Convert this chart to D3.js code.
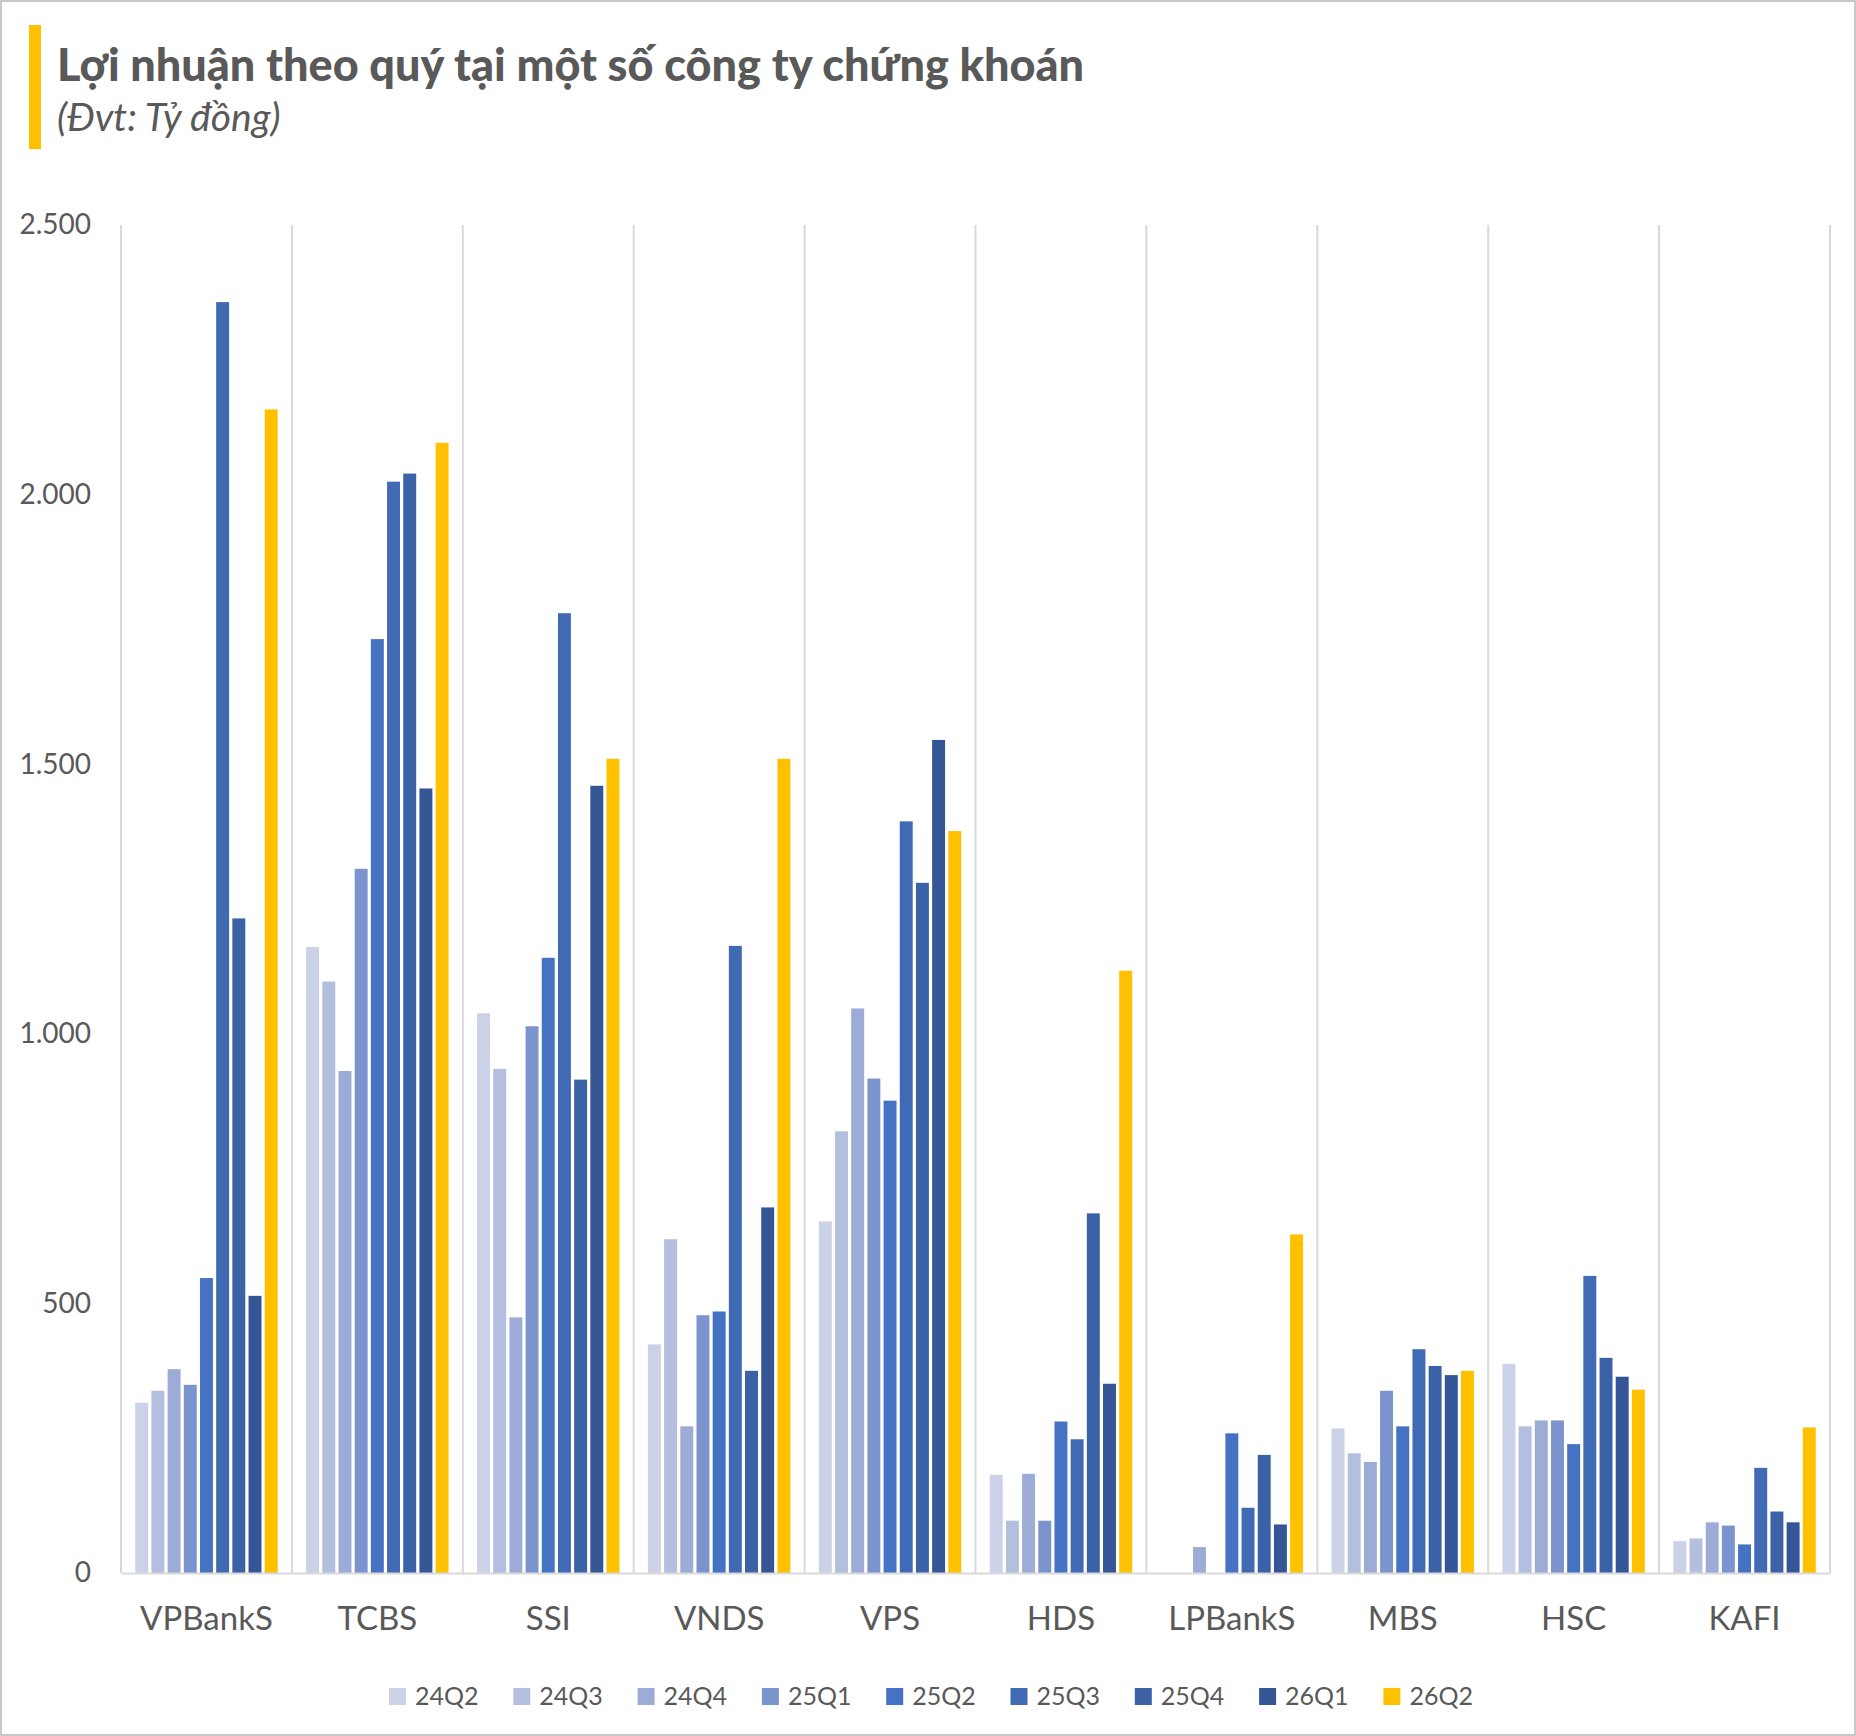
<!DOCTYPE html>
<html>
<head>
<meta charset="utf-8">
<script src="https://cdn.jsdelivr.net/npm/d3@7"></script>
<style>
  body { margin: 0; background: #fff; }
  text { font-family: Lato, "Open Sans", sans-serif; fill: #595959; }
</style>
</head>
<body>
<div class="chart"></div>
<script>
var svgWidth = 1856;
var svgHeight = 1736;

// companies on the x axis
var companies = ["VPBankS", "TCBS", "SSI", "VNDS", "VPS", "HDS", "LPBankS", "MBS", "HSC", "KAFI"];
var quarters = ["24Q2", "24Q3", "24Q4", "25Q1", "25Q2", "25Q3", "25Q4", "26Q1", "26Q2"];
var colors = ["#CBD2E8", "#B4BFDF", "#9CACD6", "#7C94CE", "#4672C4", "#416AB5", "#3B61A6", "#345596", "#FFC000"];
var yTicks = [0, 500, 1000, 1500, 2000, 2500];

// profit per quarter (ty dong), one array per quarter, in company order
var q24Q2 = [316, 1161, 1038, 424, 652, 182, null, 268, 388, 59];
var q24Q3 = [338, 1097, 935, 619, 819, 97, null, 222, 272, 64];
var q24Q4 = [378, 931, 474, 272, 1047, 184, 48, 206, 283, 94];
var q25Q1 = [349, 1306, 1014, 478, 917, 97, null, 338, 283, 88];
var q25Q2 = [547, 1732, 1141, 485, 876, 281, 259, 272, 239, 53];
var q25Q3 = [2357, 2024, 1780, 1163, 1394, 248, 121, 415, 551, 195];
var q25Q4 = [1214, 2039, 915, 375, 1280, 667, 219, 384, 399, 114];
var q26Q1 = [514, 1455, 1460, 678, 1545, 351, 90, 367, 364, 94];
var q26Q2 = [2158, 2096, 1510, 1510, 1376, 1117, 628, 375, 340, 270];
var seriesValues = [q24Q2, q24Q3, q24Q4, q25Q1, q25Q2, q25Q3, q25Q4, q26Q1, q26Q2];

var margin = { top: 225, right: 26, bottom: 163, left: 121 };
var width = svgWidth - margin.left - margin.right;
var height = svgHeight - margin.top - margin.bottom;

var svg = d3.select(".chart")
  .append("svg")
  .attr("width", svgWidth)
  .attr("height", svgHeight);

// frame
svg.append("rect")
  .attr("x", 1).attr("y", 1)
  .attr("width", svgWidth - 2).attr("height", svgHeight - 2)
  .attr("fill", "none")
  .attr("stroke", "#c8c8c8")
  .attr("stroke-width", 2);

// title block
svg.append("rect")
  .attr("x", 29).attr("y", 25)
  .attr("width", 12).attr("height", 124)
  .attr("fill", "#FFC000");

svg.append("text")
  .attr("x", 57).attr("y", 81)
  .style("font-size", "45px")
  .style("font-weight", "900")
  .text("Lợi nhuận theo quý tại một số công ty chứng khoán");

svg.append("text")
  .attr("x", 57).attr("y", 131)
  .style("font-size", "39px")
  .style("font-style", "italic")
  .text("(Đvt: Tỷ đồng)");

var chartGroup = svg.append("g")
  .attr("transform", `translate(${margin.left}, ${margin.top})`);

var x0 = d3.scaleBand()
  .domain(companies)
  .range([0, width]);

var x1 = d3.scaleBand()
  .domain(quarters)
  .range([0, x0.bandwidth()])
  .paddingInner(0.2)
  .paddingOuter(0.88);

var y = d3.scaleLinear()
  .domain([0, 2500])
  .range([height, 0]);

var fmt = d3.formatLocale({ decimal: ",", thousands: ".", grouping: [3], currency: ["", ""] }).format(",");

// category separators
chartGroup.selectAll(".sep")
  .data(d3.range(companies.length + 1))
  .enter()
  .append("line")
  .attr("x1", d => d * x0.step())
  .attr("x2", d => d * x0.step())
  .attr("y1", 0)
  .attr("y2", height)
  .attr("stroke", "#D9D9D9")
  .attr("stroke-width", 2);

// y axis labels
var leftAxis = d3.axisLeft(y).tickValues(yTicks).tickFormat(fmt).tickSize(0).tickPadding(30);
var yAxis = chartGroup.append("g").call(leftAxis);
yAxis.select(".domain").remove();
yAxis.selectAll("text")
  .style("font-size", "28px")
  .attr("fill", "#595959");

// bars
seriesValues.forEach(function (vals, i) {
  chartGroup.append("g")
    .selectAll("rect")
    .data(vals.map((v, j) => ({ company: companies[j], value: v })).filter(d => d.value != null))
    .enter()
    .append("rect")
    .attr("x", d => x0(d.company) + x1(quarters[i]))
    .attr("y", d => y(d.value))
    .attr("width", x1.bandwidth())
    .attr("height", d => height - y(d.value))
    .attr("fill", colors[i]);
});

// x axis
var bottomAxis = d3.axisBottom(x0).tickSize(0).tickPadding(34);
var xAxis = chartGroup.append("g")
  .attr("transform", `translate(0, ${height})`)
  .call(bottomAxis);
xAxis.select(".domain")
  .attr("stroke", "#D9D9D9")
  .attr("stroke-width", 2);
xAxis.selectAll("text")
  .style("font-size", "33px")
  .attr("fill", "#595959");

// legend
var legend = svg.append("g")
  .attr("transform", "translate(389, 1688)");

var items = legend.selectAll("g")
  .data(quarters)
  .enter()
  .append("g")
  .attr("transform", (d, i) => `translate(${i * 124.3}, 0)`);

items.append("rect")
  .attr("width", 17)
  .attr("height", 17)
  .attr("fill", (d, i) => colors[i]);

items.append("text")
  .attr("x", 26)
  .attr("y", 17)
  .style("font-size", "25px")
  .text(d => d);
</script>
</body>
</html>
